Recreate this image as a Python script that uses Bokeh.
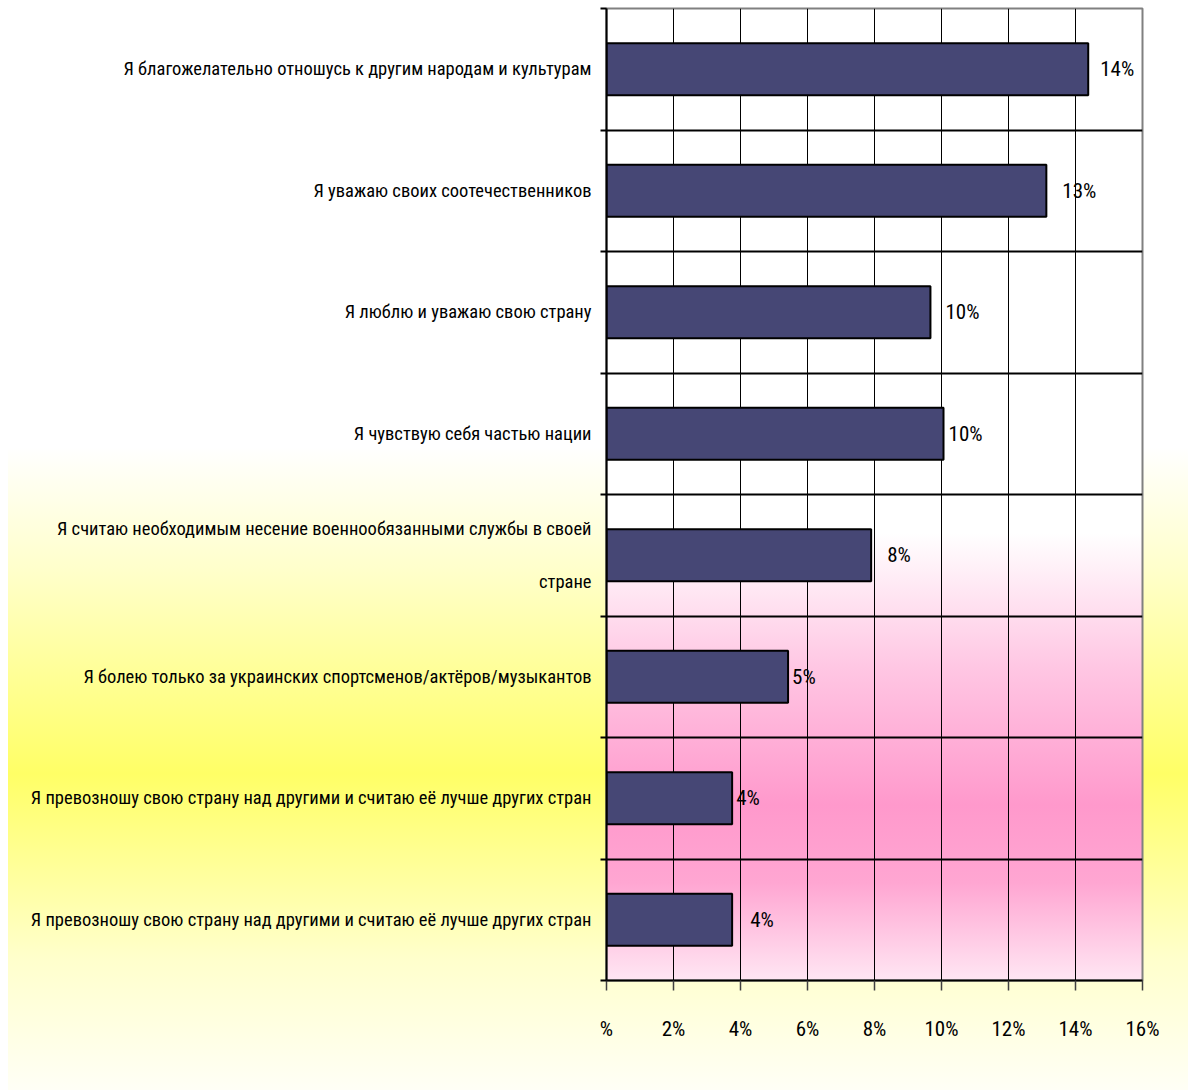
from bokeh.plotting import figure
from bokeh.models import FixedTicker, ColumnDataSource, Range1d
from bokeh.embed import file_html
from bokeh.resources import INLINE
from bokeh.core.properties import value

categories = [
    "Я благожелательно отношусь к другим народам и культурам",
    "Я уважаю своих соотечественников",
    "Я люблю и уважаю свою страну",
    "Я чувствую себя частью нации",
    "Я считаю необходимым несение военнообязанными службы в своей\n\nстране",
    "Я болею только за украинских спортсменов/актёров/музыкантов",
    "Я превозношу свою страну над другими и считаю её лучше других стран",
    "Я превозношу свою страну над другими и считаю её лучше других стран",
]
values = [14.38, 13.13, 9.67, 10.06, 7.9, 5.42, 3.75, 3.75]
value_labels = ["14%", "13%", "10%", "10%", "8%", "5%", "4%", "4%"]
x_ticks = [0, 2, 4, 6, 8, 10, 12, 14, 16]
x_tick_labels = ["%", "2%", "4%", "6%", "8%", "10%", "12%", "14%", "16%"]

# style: horizontal gap (px) between bar end and its value label
label_gap_px = [12, 16, 15, 5, 16, 4, 4, 18]

FONT = "Roboto Condensed"
n = len(categories)
y_pos = [n - i - 0.5 for i in range(n)]
boundaries = list(range(n + 1))

src = ColumnDataSource(dict(y=y_pos, v=values, lab=value_labels, gap=label_gap_px))

W, H = 1188, 1090
LEFT, RIGHT, TOP, BOTTOM = 606, 46, 8, 110
FW, FH = W - LEFT - RIGHT, H - TOP - BOTTOM

p = figure(width=W, height=H, x_range=Range1d(0, 16), y_range=Range1d(0, n),
           output_backend="svg", toolbar_location=None,
           min_border_left=LEFT, min_border_right=RIGHT,
           min_border_top=TOP, min_border_bottom=BOTTOM)

p.border_fill_color = None
p.background_fill_color = None
p.outline_line_color = "#808080"
p.outline_line_width = 2

page_grad = ("linear-gradient(to bottom, #ffffff 0%, #ffffff 41%, #ffffcc 52%, "
             "#ffff66 71%, #ffffcc 88%, #fffff6 100%)")
plot_grad = ("linear-gradient(to bottom, #ffffff 0%, #ffffff 54%, #ffc6e3 68%, "
             "#ff99cc 82%, #ffa6d2 90%, #ffe6f3 100%)")
p.styles = {"background": (f"{plot_grad} {LEFT}px {TOP}px / {FW}px {FH}px no-repeat, "
                           f"{page_grad} 8px 0px / {W - 8}px {H}px no-repeat, #ffffff")}

p.hbar(y="y", right="v", left=0, height=0.43, source=src,
       fill_color="#464775", line_color="black", line_width=2)
p.text(x="v", y="y", text="lab", x_offset="gap", source=src,
       text_align="left", text_baseline="middle",
       text_font=value(FONT), text_font_size="21px", text_color="black")

# x axis
p.xaxis.ticker = FixedTicker(ticks=x_ticks)
p.xaxis.major_label_overrides = dict(zip(x_ticks, x_tick_labels))
p.xaxis.major_label_text_font = FONT
p.xaxis.major_label_text_font_size = "21px"
p.xaxis.major_label_text_color = "black"
p.xaxis.major_label_standoff = 26
p.xaxis.axis_line_color = "black"
p.xaxis.axis_line_width = 2
p.xaxis.major_tick_out = 10
p.xaxis.major_tick_in = 0
p.xaxis.major_tick_line_color = "#404040"
p.xaxis.major_tick_line_width = 1.5
p.xaxis.minor_tick_line_color = None

# y axis
p.yaxis.ticker = FixedTicker(ticks=y_pos, minor_ticks=boundaries)
p.yaxis.major_label_overrides = dict(zip(y_pos, categories))
p.yaxis.major_label_text_font = FONT
p.yaxis.major_label_text_font_size = "18.5px"
p.yaxis.major_label_text_color = "black"
p.yaxis.major_label_standoff = 9
p.yaxis.axis_line_color = "black"
p.yaxis.axis_line_width = 2
p.yaxis.major_tick_out = 0
p.yaxis.major_tick_in = 0
p.yaxis.minor_tick_out = 6
p.yaxis.minor_tick_in = 0
p.yaxis.minor_tick_line_color = "black"
p.yaxis.minor_tick_line_width = 2

# grids
p.xgrid.ticker = FixedTicker(ticks=x_ticks[1:-1])
p.xgrid.grid_line_color = "black"
p.xgrid.grid_line_width = 1
p.ygrid.ticker = FixedTicker(ticks=boundaries[1:-1])
p.ygrid.grid_line_color = "black"
p.ygrid.grid_line_width = 2

open("out.html", "w").write(file_html(p, INLINE))
